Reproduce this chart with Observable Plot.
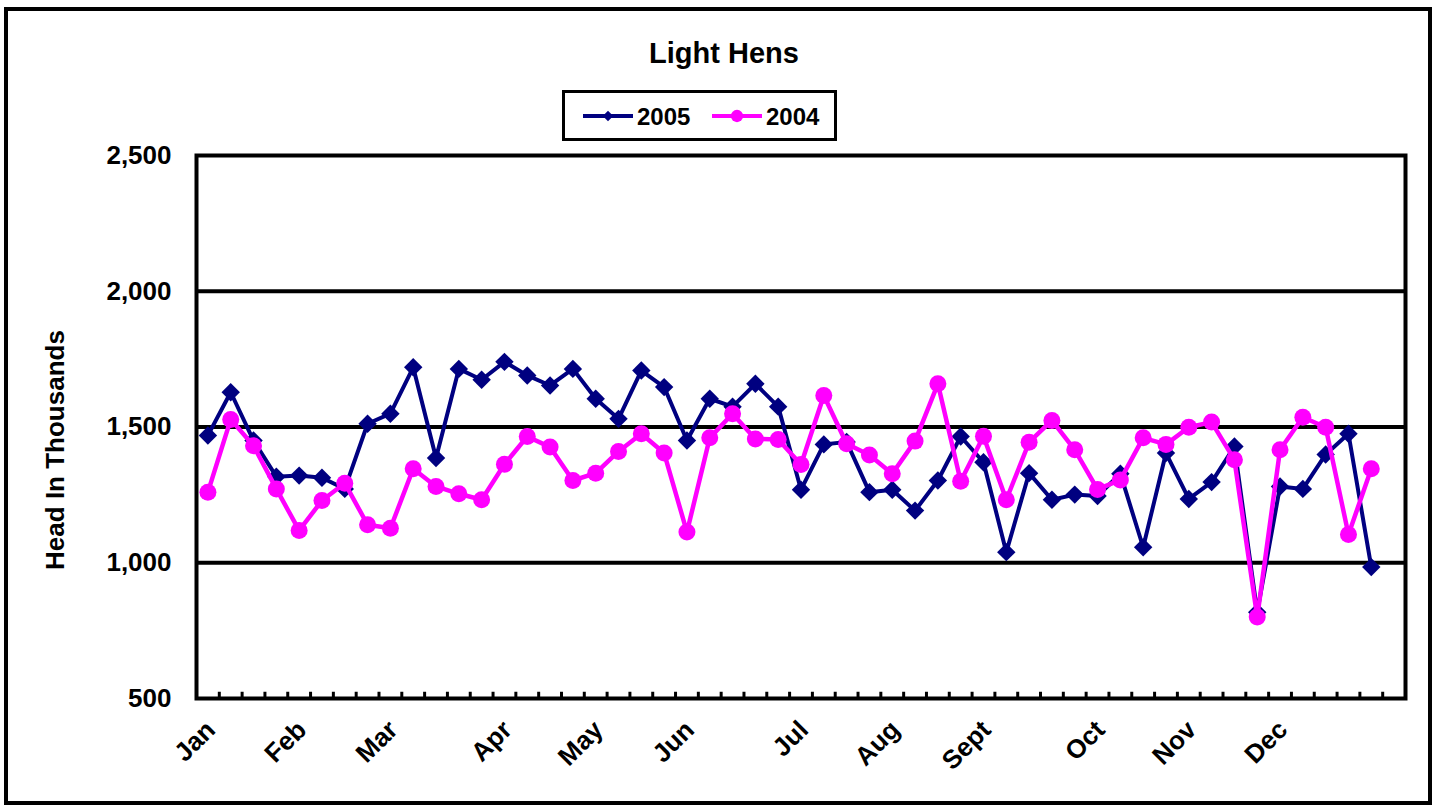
<!DOCTYPE html>
<html>
<head>
<meta charset="utf-8">
<script src="https://cdn.jsdelivr.net/npm/d3@7"></script>
<script src="https://cdn.jsdelivr.net/npm/@observablehq/plot@0.6"></script>
<style>
  html, body { margin: 0; padding: 0; background: #fff; }
  #wrap { position: relative; width: 1438px; height: 806px; overflow: hidden; font-family: "Liberation Sans", Arial, sans-serif; }
  #border { position: absolute; left: 4px; top: 7px; width: 1428px; height: 798px; border: 4px solid #000; box-sizing: border-box; pointer-events: none; }
  #legend { position: absolute; left: 562px; top: 90px; }
  #chart { position: absolute; left: 0; top: 0; }
</style>
</head>
<body>
<div id="wrap">
  <div id="chart"></div>
  <div id="border"></div>
  <div id="legend"></div>
</div>
<script>
// ---- data ----
const title = "Light Hens";
const yLabel = "Head In Thousands";
const months = ["Jan","Feb","Mar","Apr","May","Jun","Jul","Aug","Sept","Oct","Nov","Dec"];
const monthWeek = [0,4,8,13,17,21,26,30,34,39,43,47];
const weekCount = 53;
const yTicks = [500,1000,1500,2000,2500];
const gridValues = [1000,1500,2000];
const series = ["2005","2004"];
const colors = ["#000080","#FF00FF"];
const values2005 = [1469,1628,1450,1317,1321,1313,1272,1512,1549,1720,1386,1714,1674,1740,1690,1653,1714,1604,1530,1708,1647,1450,1604,1575,1659,1575,1269,1436,1445,1260,1269,1192,1303,1465,1370,1039,1330,1232,1251,1246,1328,1057,1404,1235,1297,1428,818,1281,1272,1399,1475,984];
const values2004 = [1260,1528,1431,1272,1119,1229,1293,1140,1127,1346,1281,1254,1232,1363,1465,1426,1303,1330,1410,1475,1404,1113,1460,1549,1456,1454,1362,1616,1438,1397,1328,1448,1659,1300,1466,1232,1444,1524,1416,1270,1305,1460,1436,1499,1518,1379,800,1416,1536,1499,1104,1346];

// ---- tables built from the arrays ----
const rows2005 = values2005.map((v, i) => ({week: i, value: v}));
const rows2004 = values2004.map((v, i) => ({week: i, value: v}));
const monthTicks = months.map((m, i) => ({week: monthWeek[i], label: m}));
const boundaries = d3.range(weekCount + 1).map(i => i - 0.5);

const font = '"Liberation Sans", Arial, sans-serif';

const chart = Plot.plot({
  width: 1438,
  height: 806,
  marginLeft: 196,
  marginRight: 33,
  marginTop: 155,
  marginBottom: 108,
  style: {fontFamily: font, fontWeight: "bold", color: "#000", background: "transparent", overflow: "visible"},
  x: {type: "linear", domain: [-0.5, weekCount - 0.5], axis: null},
  y: {type: "linear", domain: [500, 2500], axis: null},
  marks: [
    Plot.ruleY(gridValues, {stroke: "#000", strokeWidth: 4}),
    Plot.frame({stroke: "#000", strokeWidth: 4}),
    Plot.ruleX(boundaries, {x: d => d, y1: 500, y2: 523, stroke: "#000", strokeWidth: 3}),
    Plot.axisY({ticks: yTicks, tickFormat: d3.format(","), tickSize: 0, tickPadding: 25, fontSize: 26, fontWeight: "bold", label: null}),
    Plot.text([yLabel], {frameAnchor: "left", text: d => d, rotate: -90, textAnchor: "middle", dx: -141, dy: 23, fontSize: 26, fontWeight: "bold", lineAnchor: "middle"}),
    Plot.text([title], {frameAnchor: "top", text: d => d, textAnchor: "middle", dx: -77, dy: -102, fontSize: 29, fontWeight: "bold", lineAnchor: "middle"}),
    Plot.text(monthTicks, {x: "week", frameAnchor: "bottom", text: "label", rotate: -45, textAnchor: "end", lineAnchor: "middle", dx: 3, dy: 27, fontSize: 26, fontWeight: "bold"}),
    Plot.line(rows2005, {x: "week", y: "value", stroke: colors[0], strokeWidth: 4}),
    Plot.dot(rows2005, {x: "week", y: "value", symbol: "diamond2", r: 8.3, fill: colors[0], stroke: "none"}),
    Plot.line(rows2004, {x: "week", y: "value", stroke: colors[1], strokeWidth: 4.5}),
    Plot.dot(rows2004, {x: "week", y: "value", symbol: "circle", r: 8.5, fill: colors[1], stroke: "none"})
  ]
});
document.getElementById("chart").appendChild(chart);

// ---- legend ----
const lg = d3.select("#legend").append("svg").attr("width", 276).attr("height", 52)
  .style("font-family", font).style("font-weight", "bold").style("overflow", "visible");
lg.append("rect").attr("x", 1.5).attr("y", 1.5).attr("width", 272).attr("height", 48)
  .attr("fill", "#fff").attr("stroke", "#000").attr("stroke-width", 3);
const items = [
  {x: 21, label: series[0], color: colors[0], sym: d3.symbolDiamond2, size: 70},
  {x: 150, label: series[1], color: colors[1], sym: d3.symbolCircle, size: 120}
];
items.forEach(it => {
  const cy = 26;
  lg.append("line").attr("x1", it.x).attr("x2", it.x + 50).attr("y1", cy).attr("y2", cy)
    .attr("stroke", it.color).attr("stroke-width", 4);
  lg.append("path").attr("d", d3.symbol(it.sym, it.size)())
    .attr("transform", `translate(${it.x + 25},${cy})`).attr("fill", it.color);
  lg.append("text").attr("x", it.x + 54).attr("y", cy + 8.5).attr("font-size", 24).attr("fill", "#000").text(it.label);
});
</script>
</body>
</html>
